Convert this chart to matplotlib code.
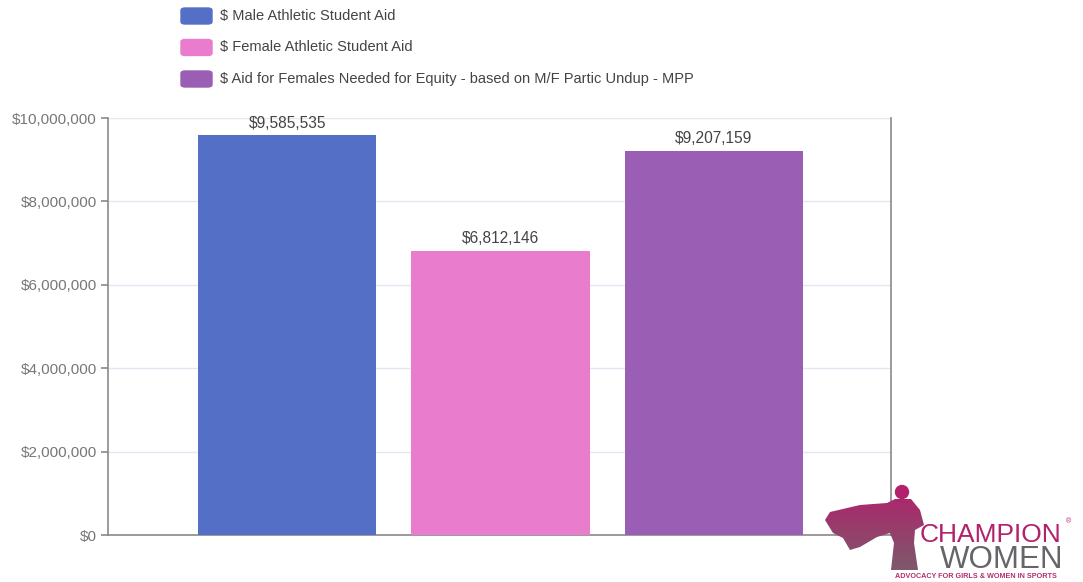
import numpy as np
import matplotlib.pyplot as plt
from matplotlib.patches import FancyBboxPatch, Polygon, Circle
from matplotlib.colors import LinearSegmentedColormap
from matplotlib.ticker import FuncFormatter

plt.rcParams['font.family'] = ['Liberation Sans', 'DejaVu Sans']

# data
series_names = ['$ Male Athletic Student Aid',
                '$ Female Athletic Student Aid',
                '$ Aid for Females Needed for Equity - based on M/F Partic Undup - MPP']
values = [9585535, 6812146, 9207159]
colors = ['#5470c6', '#e97ccc', '#9a5fb4']
y_ticks = [0, 2000000, 4000000, 6000000, 8000000, 10000000]

fig = plt.figure(figsize=(10.83, 5.82), dpi=100)
W, H = 1083, 582
ax = fig.add_axes([108 / W, 1 - 535 / H, (891 - 108) / W, (535 - 118) / H])

x = list(range(len(values)))
ax.bar(x, values, width=0.835, color=colors, zorder=3)
for xi, v in zip(x, values):
    ax.text(xi, v + 110000, f'${v:,.0f}', ha='center', va='bottom',
            fontsize=11.2, color='#444444')

ax.set_xlim(-0.84, 2.83)
ax.set_ylim(0, 10000000)
ax.set_yticks(y_ticks)
ax.yaxis.set_major_formatter(FuncFormatter(lambda v, p: f'${v:,.0f}'))
ax.set_xticks([])
ax.grid(axis='y', color='#e3e7f1', linewidth=1, zorder=0)
ax.spines['top'].set_visible(False)
for side in ['left', 'bottom', 'right']:
    ax.spines[side].set_color('#8a8a8a')
    ax.spines[side].set_linewidth(1.2)
ax.tick_params(axis='y', colors='#8a8a8a', labelcolor='#777777',
               labelsize=11, length=5, width=1.2, pad=3)

# legend
for i, (name, c) in enumerate(zip(series_names, colors)):
    yc = 1 - (16 + i * 31.5) / H
    patch = FancyBboxPatch((181 / W, yc - 8 / H), 31 / W, 16 / H,
                           boxstyle='round,pad=0,rounding_size=0.004',
                           transform=fig.transFigure, color=c)
    fig.patches.append(patch)
    fig.text(220 / W, yc, name, ha='left', va='center', fontsize=10.5,
             color='#444444')

# logo, drawn in pixel coordinates
lx = fig.add_axes([0, 0, 1, 1], zorder=5)
lx.set_xlim(0, W)
lx.set_ylim(H, 0)
lx.axis('off')
grad = np.linspace(0, 1, 100).reshape(-1, 1)
cmap = LinearSegmentedColormap.from_list('logo', ['#b3206b', '#7c5a6c'])
img = lx.imshow(grad, cmap=cmap, extent=(820, 930, 572, 484), aspect='auto')
cape = Polygon([(825, 520), (830, 512), (860, 505), (887, 503), (895, 499),
                (911, 499), (920, 510), (924, 525), (915, 530), (914, 543),
                (918, 570), (891, 570), (894, 543), (890, 533), (877, 537),
                (860, 547), (850, 550), (843, 538), (833, 533)],
               closed=True, transform=lx.transData, facecolor='none')
lx.add_patch(cape)
img.set_clip_path(cape)
lx.add_patch(Circle((902, 492), 6.5, color='#b3206b'))
lx.text(920, 542, 'CHAMPION', ha='left', va='baseline', fontsize=19,
        color='#b3206b')
lx.text(1066, 522, '®', ha='left', va='center', fontsize=5, color='#b3206b')
lx.text(940, 568, 'WOMEN', ha='left', va='baseline', fontsize=22.5,
        color='#66666a')
lx.text(976, 577, 'ADVOCACY FOR GIRLS & WOMEN IN SPORTS', ha='center',
        va='center', fontsize=5.2, color='#b0306e', fontweight='bold')

fig.savefig('out.png', dpi=100)
